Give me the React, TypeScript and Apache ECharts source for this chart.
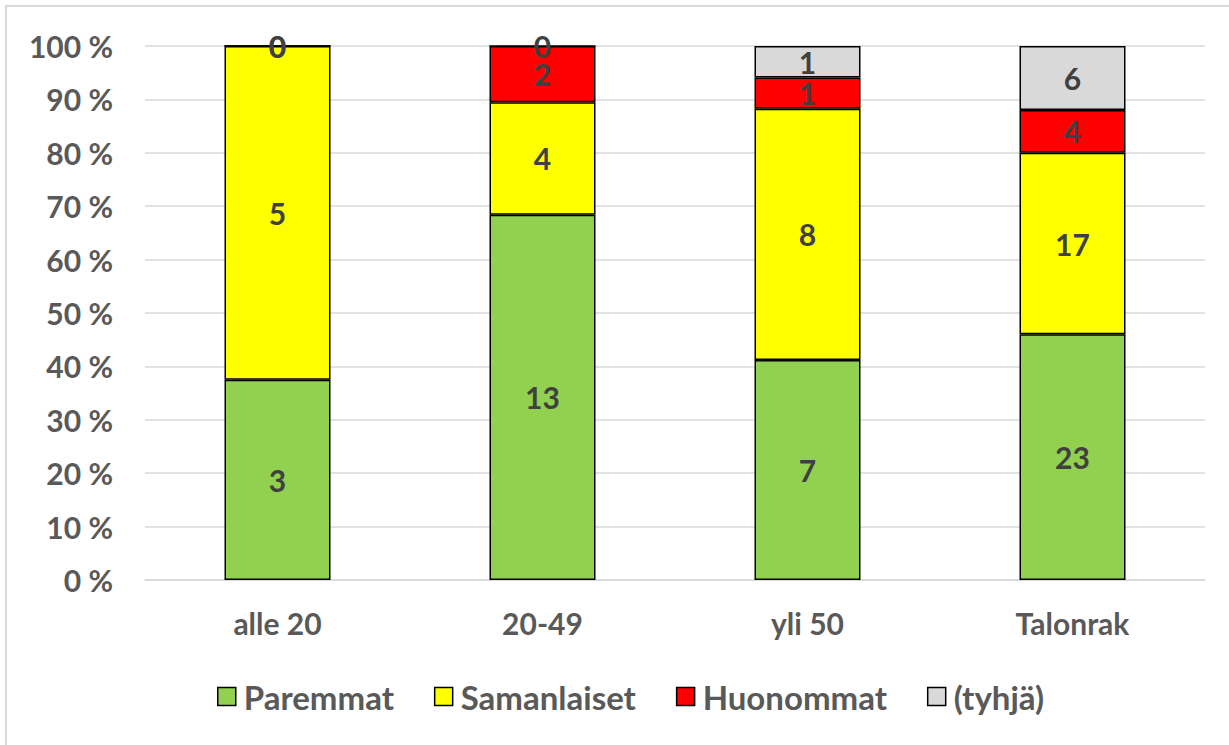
import React, { useEffect, useRef } from "react";
import * as echarts from "echarts";

const categories = ["alle 20", "20-49", "yli 50", "Talonrak"];
const paremmat = [3, 13, 7, 23];
const samanlaiset = [5, 4, 8, 17];
const huonommat = [0, 2, 1, 4];
const tyhja = [0, 0, 1, 6];
const yTicks = [0, 10, 20, 30, 40, 50, 60, 70, 80, 90, 100];

const seriesDefs = [
  { name: "Paremmat", values: paremmat, color: "#92D050" },
  { name: "Samanlaiset", values: samanlaiset, color: "#FFFF00" },
  { name: "Huonommat", values: huonommat, color: "#FF0000" },
  { name: "(tyhjä)", values: tyhja, color: "#D9D9D9" },
];

const FONT = "Lato";

export default function App() {
  const ref = useRef<HTMLDivElement>(null);
  useEffect(() => {
    if (!ref.current) return;
    const chart = echarts.init(ref.current, undefined, { renderer: "svg" });
    const totals = categories.map((_, i) =>
      seriesDefs.reduce((s, d) => s + d.values[i], 0)
    );
    chart.setOption({
      animation: false,
      backgroundColor: "#fff",
      graphic: [
        {
          type: "rect",
          shape: { x: 6, y: 6, width: 1240, height: 760 },
          style: { fill: "none", stroke: "#D9D9D9", lineWidth: 2 },
          silent: true,
          z: -1,
        },
      ],
      grid: { left: 145, right: 24, top: 46, bottom: 165, containLabel: false },
      legend: {
        bottom: 27,
        left: 212,
        itemWidth: 18,
        itemHeight: 18,
        itemGap: 40,
        icon: "rect",
        textStyle: { fontFamily: FONT, fontWeight: "bold", fontSize: 33, color: "#595959", padding: [0, 0, 0, 3] },
        data: seriesDefs.map((d) => ({
          name: d.name,
          itemStyle: { color: d.color, borderColor: "#000", borderWidth: 1.5 },
        })),
      },
      xAxis: {
        type: "category",
        data: categories,
        axisLine: { show: true, lineStyle: { color: "#D9D9D9", width: 1.5 } },
        axisTick: { show: false },
        axisLabel: { fontFamily: FONT, fontWeight: "bold", fontSize: 30, color: "#595959", margin: 28 },
      },
      yAxis: {
        type: "value",
        min: 0,
        max: 100,
        interval: 10,
        axisLine: { show: false },
        axisTick: { show: false },
        splitLine: { lineStyle: { color: "#D9D9D9", width: 1.5 } },
        axisLabel: {
          fontFamily: FONT,
          fontWeight: "bold",
          fontSize: 30,
          color: "#595959",
          margin: 32,
          formatter: (v: number) => (yTicks.includes(v) ? `${v} %` : ""),
        },
      },
      series: seriesDefs.map((d) => ({
        name: d.name,
        type: "bar",
        stack: "total",
        barWidth: "40%",
        data: d.values.map((v, i) => ({ value: (v / totals[i]) * 100, raw: v })),
        itemStyle: { color: d.color, borderColor: "#000", borderWidth: 1.5 },
        label: {
          show: true,
          position: "inside",
          fontFamily: FONT,
          fontWeight: "bold",
          fontSize: 30,
          color: "#404040",
          formatter: (p: any) => String(p.data.raw),
        },
      })),
    });
    return () => chart.dispose();
  }, []);
  return (
    <div
      ref={ref}
      style={{ position: "absolute", left: 0, top: 0, width: 1229, height: 745 }}
    />
  );
}
